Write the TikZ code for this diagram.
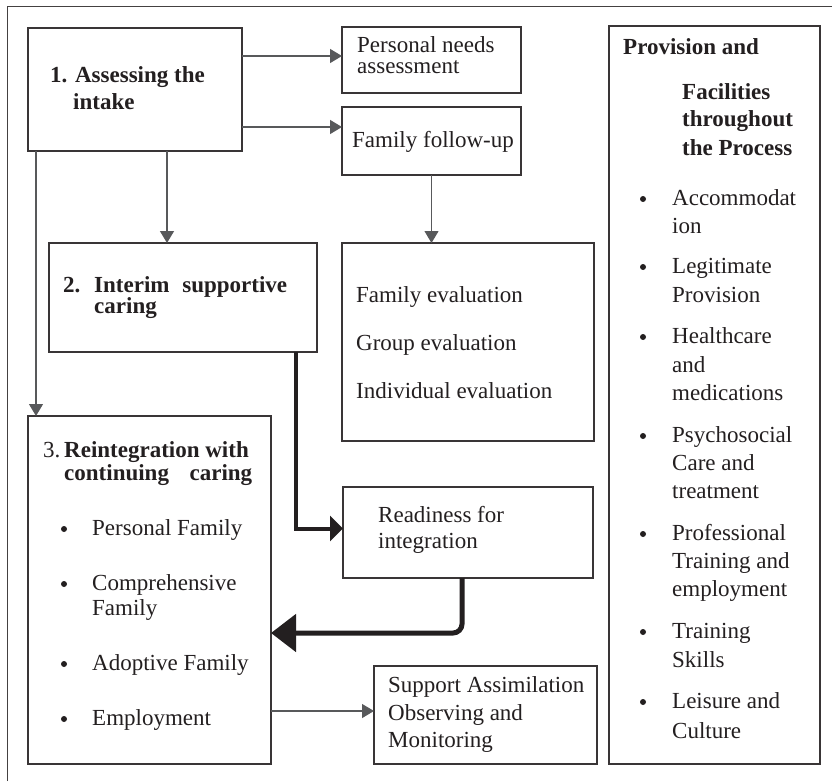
\documentclass[tikz,border=0pt]{standalone}
\usepackage{fontspec}
\setmainfont{Liberation Serif}
\usetikzlibrary{arrows.meta,calc}
\definecolor{ink}{HTML}{231F20}
\definecolor{arr}{HTML}{58595B}
\begin{document}
\begin{tikzpicture}[x=1pt,y=-1pt,
  box/.style={draw=ink!90, line width=1.2pt, inner sep=0pt, outer sep=0pt, anchor=north west},
  txt/.style={anchor=base west, inner sep=0pt, text=ink, font=\fontsize{23}{27}\selectfont},
  bf/.style={txt, font=\fontsize{23}{27}\selectfont\bfseries},
  dot/.style={circle, fill=ink, inner sep=0pt, minimum size=6pt},
  garrow/.style={draw=arr, line width=1.4pt, -{Triangle[length=12pt,width=14pt]}},
  thickarrow/.style={draw=ink, line width=4pt, -{Triangle[length=13pt,width=25pt]}},
  bigarrow/.style={draw=ink, line width=5pt, rounded corners=9pt, -{Triangle[length=25pt,width=37pt]}}]
\useasboundingbox (0,0) rectangle (837,781);
\fill[white] (0,0) rectangle (837,781);
% outer frame (cropped)
\draw[draw=ink!85, line width=1pt] (7,781) -- (7,7) -- (832,7);

% boxes
\node[box, minimum width=214pt, minimum height=123pt] (b1) at (28,28) {};
\node[box, minimum width=179pt, minimum height=66pt] (pn) at (342,27) {};
\node[box, minimum width=179pt, minimum height=68pt] (ff) at (342,107) {};
\node[box, minimum width=268pt, minimum height=109pt] (b2) at (49,243) {};
\node[box, minimum width=252pt, minimum height=198pt] (ev) at (342,243) {};
\node[box, minimum width=243pt, minimum height=348pt] (b3) at (28,416) {};
\node[box, minimum width=250pt, minimum height=91pt] (rd) at (343,487) {};
\node[box, minimum width=223pt, minimum height=98pt] (sp) at (374,666) {};
\node[box, minimum width=211pt, minimum height=738pt] (pv) at (609,26) {};

% texts: box 1
\node[bf] (t1a) at (50,83) {1. Assessing the};
\node[bf] (t1b) at (73,110) {intake};
% personal needs
\node[txt] (tpa) at (357,53) {Personal needs};
\node[txt] (tpb) at (357,74) {assessment};
% family follow-up
\node[txt] (tff) at (352,147) {Family follow-up};
% box 2
\node[bf] (t2n) at (63,292) {2.};
\node[bf] (t2a) at (94,292) {\makebox[193pt][s]{Interim supportive}};
\node[bf] (t2b) at (94,313) {caring};
% evaluations
\node[txt] (tea) at (356,302) {Family evaluation};
\node[txt] (teb) at (356,350) {Group evaluation};
\node[txt] (tec) at (356,398) {Individual evaluation};
% box 3
\node[txt] (t3n) at (43,457) {3.};
\node[bf] (t3a) at (64,457) {Reintegration with};
\node[bf] (t3b) at (64,480) {\makebox[188pt][s]{continuing caring}};
\node[dot] (d3a) at (64,529) {};
\node[txt] (t3c) at (92,535) {Personal Family};
\node[dot] (d3b) at (64,584) {};
\node[txt] (t3d) at (92,590) {Comprehensive};
\node[txt] (t3e) at (92,615) {Family};
\node[dot] (d3c) at (64,664) {};
\node[txt] (t3f) at (92,670) {Adoptive Family};
\node[dot] (d3d) at (64,719) {};
\node[txt] (t3g) at (92,725) {Employment};
% readiness
\node[txt] (tra) at (378,522) {Readiness for};
\node[txt] (trb) at (378,548) {integration};
% support
\node[txt] (tsa) at (388,692) {Support Assimilation};
\node[txt] (tsb) at (388,720) {Observing and};
\node[txt] (tsc) at (388,747) {Monitoring};
% provision column
\node[bf] (tva) at (623,55) {Provision and};
\node[bf] (tvb) at (682,100) {Facilities};
\node[bf] (tvc) at (682,127) {throughout};
\node[bf] (tvd) at (682,155) {the Process};
\node[dot] (dv1) at (643,199) {};
\node[txt] (tv1a) at (672,205) {Accommodat};
\node[txt] (tv1b) at (672,233) {ion};
\node[dot] (dv2) at (643,267) {};
\node[txt] (tv2a) at (672,273) {Legitimate};
\node[txt] (tv2b) at (672,302) {Provision};
\node[dot] (dv3) at (643,337) {};
\node[txt] (tv3a) at (672,343) {Healthcare};
\node[txt] (tv3b) at (672,372) {and};
\node[txt] (tv3c) at (672,400) {medications};
\node[dot] (dv4) at (643,436) {};
\node[txt] (tv4a) at (672,442) {Psychosocial};
\node[txt] (tv4b) at (672,470) {Care and};
\node[txt] (tv4c) at (672,498) {treatment};
\node[dot] (dv5) at (643,534) {};
\node[txt] (tv5a) at (672,540) {Professional};
\node[txt] (tv5b) at (672,568) {Training and};
\node[txt] (tv5c) at (672,596) {employment};
\node[dot] (dv6) at (643,632) {};
\node[txt] (tv6a) at (672,638) {Training};
\node[txt] (tv6b) at (672,667) {Skills};
\node[dot] (dv7) at (643,702) {};
\node[txt] (tv7a) at (672,708) {Leisure and};
\node[txt] (tv7b) at (672,738) {Culture};

% connector end points
\coordinate (pnin) at ($(pn.west)+(0,-4)$);
\coordinate (ffin) at ($(ff.west)+(0,-14)$);
\coordinate (b2in) at ($(b2.north)+(-16,0)$);
\coordinate (b1out) at ($(b1.south west)+(8,0)$);
\coordinate (b3in) at ($(b3.north west)+(8,0)$);
\coordinate (b2out) at ($(b2.south east)+(-21,0)$);
\coordinate (rdin) at ($(rd.west)+(0,-4)$);
\coordinate (rdout) at ($(rd.south)+(-6,0)$);
\coordinate (b3side) at ($(b3.east)+(0,43)$);
\coordinate (spin) at ($(sp.west)+(0,-4)$);

% connectors
\draw[garrow] (b1.east |- pnin) -- (pnin);
\draw[garrow] (b1.east |- ffin) -- (ffin);
\draw[garrow] (b1.south -| b2in) -- (b2in);
\draw[garrow, line width=1.1pt] (b1out) -- (b3in);
\draw[garrow, line width=1.1pt] (ff.south) -- (ff.south |- ev.north);
\draw[thickarrow] (b2out) |- (rdin);
\draw[bigarrow] (rdout) |- (b3side);
\draw[garrow, line width=1.1pt] (b3.east |- spin) -- (spin);
\end{tikzpicture}
\end{document}
